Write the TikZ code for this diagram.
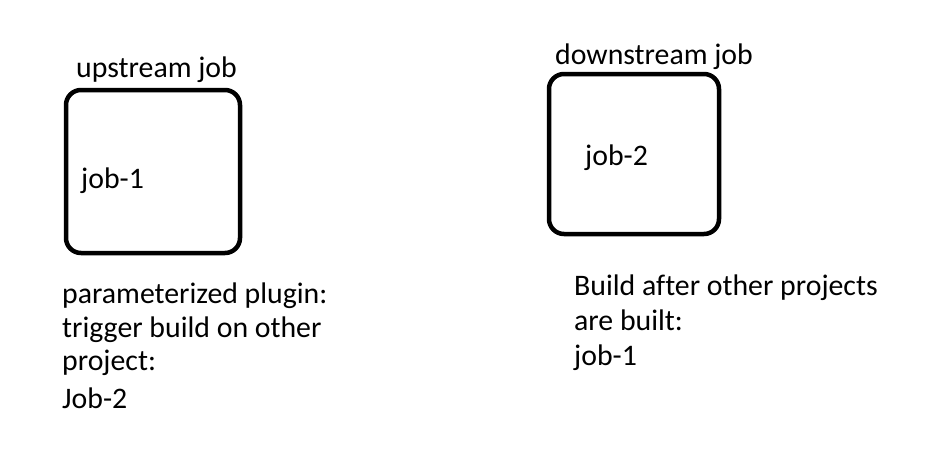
\documentclass[tikz,border=0pt]{standalone}
\usepackage{fontspec}
\setmainfont[Ligatures={NoCommon}]{Carlito}
\begin{document}
\begin{tikzpicture}[x=1pt,y=-1pt,
  jobbox/.style={line width=4.5pt,rounded corners=15pt},
  txt/.style={anchor=base west,inner sep=0pt,font=\fontsize{29.8}{36}\selectfont}]
\useasboundingbox (0,0) rectangle (937,456);
\draw[jobbox] (66,90) rectangle (240,253);
\draw[jobbox] (549,74) rectangle (719,234);
\node[txt] (up) at (76,77) {upstream job};
\node[txt] (j1) at (81,188) {job-1};
\node[txt] (down) at (555,64) {downstream job};
\node[txt] (j2) at (585,165) {job-2};
\node[txt] (l1) at (62,303) {parameterized plugin:};
\node[txt] (l2) at (62,337) {trigger build on other};
\node[txt] (l3) at (62,370) {project:};
\node[txt] (l4) at (62,408) {Job-2};
\node[txt] (r1) at (574,295) {Build after other projects};
\node[txt] (r2) at (574,330) {are built:};
\node[txt] (r3) at (574,365) {job-1};
\end{tikzpicture}
\end{document}
